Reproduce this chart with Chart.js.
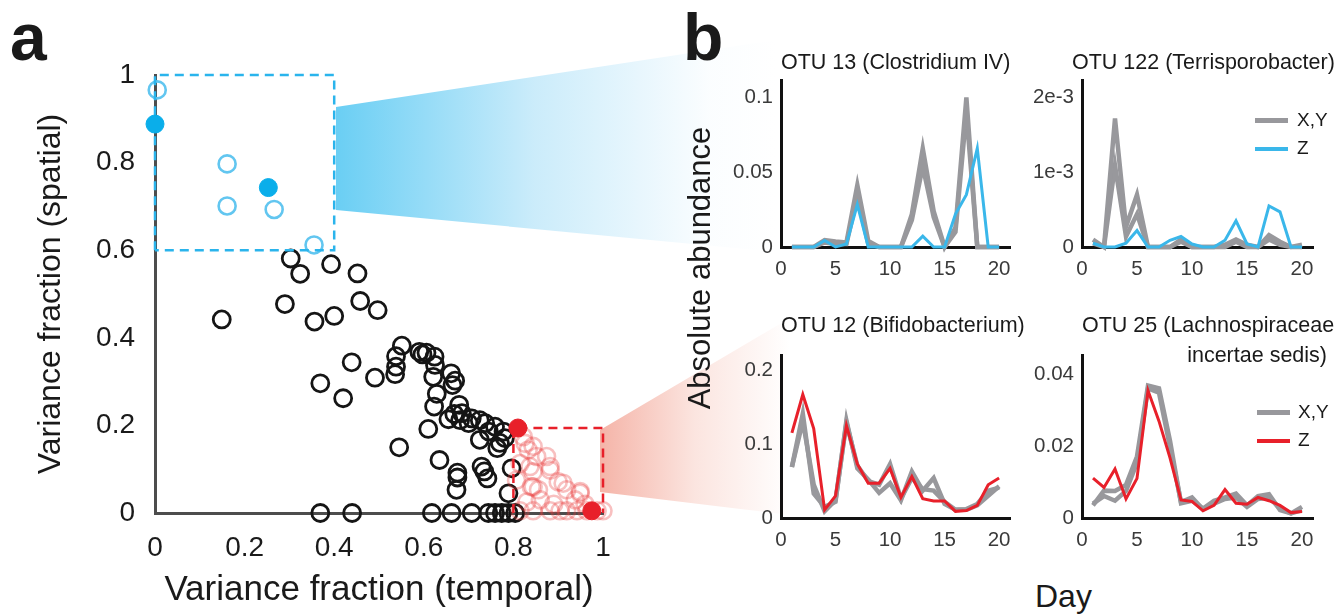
<!DOCTYPE html>
<html><head><meta charset="utf-8">
<script src="https://cdn.jsdelivr.net/npm/chart.js@4.4.1/dist/chart.umd.min.js"></script>
<style>
body{margin:0;width:1342px;height:614px;overflow:hidden;background:#fff;position:relative;font-family:"Liberation Sans",Arial,sans-serif;}
canvas{position:absolute;}
.t{position:absolute;white-space:nowrap;color:#1a1a1a;}
.sw{position:absolute;}
</style></head><body>
<div class="t" style="left:336px;top:40px;width:440px;height:212px;clip-path:polygon(0 67px,440px 0,440px 212px,0 170px);background:linear-gradient(to right,rgba(80,198,242,0.85),rgba(160,220,247,0.55) 45%,rgba(235,247,253,0.2) 85%,rgba(255,255,255,0));"></div>
<div class="t" style="left:600px;top:318px;width:190px;height:200px;clip-path:polygon(0 112px,190px 0,190px 197px,0 174px);background:linear-gradient(to right,rgba(238,130,110,0.6),rgba(245,180,165,0.35) 50%,rgba(255,255,255,0));"></div>

<canvas id="cScatter" width="660" height="614" style="left:0;top:0"></canvas>
<canvas id="cP1" width="310" height="230" style="left:720px;top:60px"></canvas>
<canvas id="cP2" width="312" height="230" style="left:1030px;top:60px"></canvas>
<canvas id="cP3" width="310" height="230" style="left:720px;top:335px"></canvas>
<canvas id="cP4" width="312" height="230" style="left:1030px;top:335px"></canvas>

<div class="t" style="left:10px;top:4px;font-size:66px;line-height:66px;font-weight:bold;">a</div>
<div class="t" style="left:683px;top:4px;font-size:66px;line-height:66px;font-weight:bold;">b</div>

<div class="t" style="left:781px;top:50px;font-size:21.5px;line-height:24px;">OTU 13 (Clostridium IV)</div>
<div class="t" style="left:1072px;top:50px;font-size:21.5px;line-height:24px;">OTU 122 (Terrisporobacter)</div>
<div class="t" style="left:781px;top:313px;font-size:21.5px;line-height:24px;">OTU 12 (Bifidobacterium)</div>
<div class="t" style="left:1082px;top:313px;font-size:21.5px;line-height:24px;">OTU 25 (Lachnospiraceae</div>
<div class="t" style="right:15px;top:343px;font-size:21.5px;line-height:24px;text-align:right;">incertae sedis)</div>

<div class="sw" style="left:1255px;top:118px;width:33px;height:5px;background:#98989c"></div>
<div class="t" style="left:1297px;top:108px;font-size:19px;line-height:24px;">X,Y</div>
<div class="sw" style="left:1255px;top:147px;width:33px;height:4px;background:#3ab7ea"></div>
<div class="t" style="left:1297px;top:136px;font-size:19px;line-height:24px;">Z</div>
<div class="sw" style="left:1257px;top:410px;width:33px;height:5px;background:#98989c"></div>
<div class="t" style="left:1298px;top:400px;font-size:19px;line-height:24px;">X,Y</div>
<div class="sw" style="left:1257px;top:439px;width:33px;height:4px;background:#e8202a"></div>
<div class="t" style="left:1298px;top:428px;font-size:19px;line-height:24px;">Z</div>

<div class="t" style="left:700px;top:268px;font-size:31px;line-height:36px;transform:translate(-50%,-50%) rotate(-90deg);">Absolute abundance</div>
<div class="t" style="left:1035px;top:578px;font-size:32px;line-height:36px;">Day</div>

<script>
// ---------- Panel a: variance fractions (temporal, spatial) ----------
const scatterTicks = [0, 0.2, 0.4, 0.6, 0.8, 1];
const blackPts = [
  [0.303,0.581],[0.324,0.546],[0.393,0.568],[0.452,0.547],[0.290,0.477],[0.149,0.442],
  [0.458,0.484],[0.497,0.463],[0.356,0.437],[0.400,0.450],[0.439,0.344],[0.369,0.296],
  [0.420,0.262],[0.491,0.309],
  [0.551,0.382],[0.538,0.358],[0.538,0.334],[0.536,0.317],[0.590,0.368],[0.597,0.362],
  [0.606,0.366],[0.624,0.357],[0.625,0.338],[0.621,0.311],[0.661,0.319],[0.670,0.302],
  [0.664,0.292],[0.629,0.272],[0.623,0.243],[0.679,0.247],[0.685,0.228],[0.668,0.226],
  [0.655,0.214],[0.681,0.212],[0.707,0.216],[0.700,0.205],[0.725,0.212],[0.737,0.205],
  [0.745,0.186],[0.759,0.197],[0.778,0.186],[0.610,0.192],[0.725,0.167],[0.781,0.171],
  [0.770,0.160],[0.545,0.150],[0.764,0.148],[0.635,0.121],[0.796,0.102],[0.729,0.106],
  [0.735,0.095],[0.742,0.079],[0.675,0.092],[0.675,0.081],[0.673,0.053],[0.789,0.045],
  [0.369,0],[0.440,0],[0.618,0],[0.662,0],[0.707,0],[0.744,0],[0.759,0],[0.774,0],[0.789,0],[0.804,0]
];
const blueOpenPts = [[0.005,0.966],[0.161,0.797],[0.161,0.701],[0.266,0.693],[0.355,0.612]];
const blueFilledPts = [[0.0,0.888],[0.253,0.743]];
const redOpenPts = [
  [0.822,0.174],[0.844,0.152],[0.826,0.159],[0.833,0.144],[0.852,0.129],[0.874,0.129],
  [0.882,0.106],[0.882,0.098],[0.844,0.094],[0.837,0.106],[0.815,0.113],[0.807,0.075],
  [0.840,0.060],[0.856,0.053],[0.844,0.060],[0.900,0.071],[0.911,0.068],[0.919,0.053],
  [0.949,0.049],[0.938,0.030],[0.949,0.045],[0.860,0.030],[0.890,0.020],[0.830,0.025],[0.960,0.020],
  [0.815,0.005],[0.844,0.005],[0.882,0.005],[0.904,0.005],[0.919,0.005],[0.942,0.005],
  [0.964,0.005],[0.987,0.005],[1.0,0.005]
];
const redFilledPts = [[0.810,0.194],[0.975,0.005]];
const blueBox = [[0,0.6],[0,1],[0.4,1],[0.4,0.6],[0,0.6]];
const redBox = [[0.8,0],[0.8,0.194],[1,0.194],[1,0]];

// ---------- Panel b: time courses ----------
const days = [1,2,3,4,5,6,7,8,9,10,11,12,13,14,15,16,17,18,19,20];
const otu13XY1 = [0,0,0,0.0047,0.0037,0.003,0.0414,0.004,0,0,0,0.022,0.066,0.024,0,0.013,0.1,0,0,0];
const otu13XY2 = [0,0,0,0.003,0.002,0.002,0.034,0.002,0,0,0,0.018,0.054,0.02,0,0.01,0.09,0,0,0];
const otu13Z   = [0,0,0,0.0043,0,0.002,0.0284,0,0,0,0,0,0.0073,0,0,0.022,0.035,0.066,0,0];
const otu122XY1 = [0.0001,0,0.00172,0.00027,0.0007,0,0,0,0.0001,0,0,0,0.00003,0.0001,0.00003,0,0.00016,0.00007,0,0.00003];
const otu122XY2 = [0.00005,0,0.00109,0.00014,0.00044,0,0,0,0.00007,0,0,0,0,0.00007,0,0,0.0001,0.00003,0,0];
const otu122Z   = [0.00005,0,0,0.00005,0.00022,0,0,0.00009,0.00014,0.00004,0,0,0.00009,0.00035,0.00004,0,0.00055,0.00047,0,0];
const otu12XY1 = [0.069,0.141,0.033,0.015,0.022,0.132,0.067,0.052,0.034,0.047,0.024,0.063,0.037,0.054,0.019,0.011,0.011,0.017,0.030,0.043];
const otu12XY2 = [0.069,0.131,0.045,0.009,0.024,0.129,0.071,0.050,0.045,0.073,0.026,0.054,0.039,0.037,0.022,0.011,0.012,0.019,0.037,0.041];
const otu12Z   = [0.115,0.167,0.121,0.011,0.030,0.125,0.073,0.047,0.047,0.067,0.028,0.056,0.026,0.023,0.023,0.009,0.010,0.017,0.045,0.054];
const otu25XY1 = [0.0035,0.0076,0.0075,0.0092,0.0171,0.0368,0.036,0.0215,0.0041,0.0048,0.0026,0.0048,0.0057,0.0068,0.0035,0.0061,0.0066,0.0022,0.0013,0.0031];
const otu25XY2 = [0.004,0.0061,0.0048,0.0075,0.0154,0.036,0.0348,0.0197,0.0044,0.0057,0.0024,0.004,0.0053,0.0057,0.0031,0.0053,0.0057,0.0026,0.0013,0.0022];
const otu25Z   = [0.0111,0.0085,0.0136,0.0053,0.011,0.0354,0.0269,0.0167,0.005,0.0046,0.002,0.0035,0.0079,0.0041,0.0038,0.0057,0.0048,0.0035,0.0015,0.0018];
const p1Ticks = [0,0.05,0.1],   p1Labels = ['0','0.05','0.1'];
const p2Ticks = [0,0.001,0.002], p2Labels = ['0','1e-3','2e-3'];
const p3Ticks = [0,0.1,0.2],    p3Labels = ['0','0.1','0.2'];
const p4Ticks = [0,0.02,0.04],  p4Labels = ['0','0.02','0.04'];

const FONT = '"Liberation Sans", Arial, sans-serif';
const GRAY = '#98989c', BLUE = '#3ab7ea', RED = '#e8202a';
const toXY = a => a.map(p => ({x:p[0], y:p[1]}));
const series = ys => ys.map((v,i) => ({x:days[i], y:v}));

function ptDs(pts, color, fill, r, bw){
  return {data:toXY(pts), pointRadius:r, pointHoverRadius:r, borderColor:color, backgroundColor:fill,
          pointBorderWidth:bw, borderWidth:bw, showLine:false, clip:false};
}
function boxDs(pts, color){
  return {data:toXY(pts), showLine:true, borderColor:color, borderWidth:2.5, borderDash:[9,6],
          pointRadius:0, fill:false, clip:false};
}

new Chart(document.getElementById('cScatter'), {
  type:'scatter',
  data:{datasets:[
    ptDs(redFilledPts, RED, RED, 9, 1),
    ptDs(blueFilledPts, '#0aaeea', '#0aaeea', 9, 1),
    boxDs(blueBox, '#2ab4ec'),
    boxDs(redBox, RED),
    ptDs(blueOpenPts, '#62c6f0', 'rgba(0,0,0,0)', 8.5, 2.6),
    ptDs(redOpenPts, 'rgba(232,60,60,0.32)', 'rgba(0,0,0,0)', 8.5, 2.6),
    ptDs(blackPts, '#151515', 'rgba(0,0,0,0)', 8.5, 2.8)
  ]},
  options:{
    responsive:false, animation:false, events:[],
    layout:{padding:{left:0, top:75, right:57, bottom:0}},
    plugins:{legend:{display:false}, tooltip:{enabled:false}},
    scales:{
      x:{type:'linear', min:0, max:1,
         afterBuildTicks:s=>{s.ticks = scatterTicks.map(v=>({value:v}));},
         afterFit:s=>{s.height = 101;},
         grid:{display:false, drawTicks:false},
         border:{display:true, color:'#4d4d4d', width:3},
         ticks:{padding:18, color:'#1a1a1a', font:{family:FONT, size:28}, callback:v=>String(+v.toFixed(1))},
         title:{display:true, text:'Variance fraction (temporal)', color:'#1a1a1a', font:{family:FONT, size:35}, padding:{top:0,bottom:3}}},
      y:{type:'linear', min:0, max:1,
         afterBuildTicks:s=>{s.ticks = scatterTicks.map(v=>({value:v}));},
         afterFit:s=>{s.width = 155;},
         grid:{display:false, drawTicks:false},
         border:{display:true, color:'#4d4d4d', width:3},
         ticks:{padding:20, color:'#1a1a1a', font:{family:FONT, size:28}, callback:v=>String(+v.toFixed(1))},
         title:{display:true, text:'Variance fraction (spatial)', color:'#1a1a1a', font:{family:FONT, size:32}, padding:{top:32,bottom:0}}}
    }
  }
});

function panel(id, lines, yMax, yTicks, yLabels, axisW, padR, padT, xAxisH){
  new Chart(document.getElementById(id), {
    type:'line',
    data:{datasets: lines.map(l => ({data:series(l.v), borderColor:l.c, borderWidth:l.w, pointRadius:0, tension:0, fill:false, clip:false}))},
    options:{
      responsive:false, animation:false, events:[],
      layout:{padding:{left:0, right:padR, top:padT, bottom:0}},
      plugins:{legend:{display:false}, tooltip:{enabled:false}},
      scales:{
        x:{type:'linear', min:0, max:21,
           afterBuildTicks:s=>{s.ticks = [0,5,10,15,20].map(v=>({value:v}));},
           afterFit:s=>{s.height = xAxisH;},
           grid:{display:false, drawTicks:false},
           border:{display:true, color:'#111', width:3},
           ticks:{padding:10, color:'#3a3a3a', font:{family:FONT, size:20.5}}},
        y:{type:'linear', min:0, max:yMax,
           afterBuildTicks:s=>{s.ticks = yTicks.map(v=>({value:v}));},
           afterFit:s=>{s.width = axisW;},
           grid:{display:false, drawTicks:false},
           border:{display:true, color:'#111', width:3},
           ticks:{padding:8, color:'#3a3a3a', font:{family:FONT, size:20.5}, callback:(v,i)=>yLabels[i]}}
      }
    }
  });
}
panel('cP1', [{v:otu13Z,c:BLUE,w:3},{v:otu13XY1,c:GRAY,w:4.5},{v:otu13XY2,c:GRAY,w:4.5}], 0.1115, p1Ticks, p1Labels, 61, 20, 15, 43);
panel('cP2', [{v:otu122Z,c:BLUE,w:3},{v:otu122XY1,c:GRAY,w:4.5},{v:otu122XY2,c:GRAY,w:4.5}], 0.00223, p2Ticks, p2Labels, 52, 29, 15, 43);
panel('cP3', [{v:otu12Z,c:RED,w:3},{v:otu12XY1,c:GRAY,w:4.5},{v:otu12XY2,c:GRAY,w:4.5}], 0.22, p3Ticks, p3Labels, 61, 20, 13, 47);
panel('cP4', [{v:otu25Z,c:RED,w:3},{v:otu25XY1,c:GRAY,w:4.5},{v:otu25XY2,c:GRAY,w:4.5}], 0.0452, p4Ticks, p4Labels, 52, 29, 13, 47);
</script>
</body></html>
